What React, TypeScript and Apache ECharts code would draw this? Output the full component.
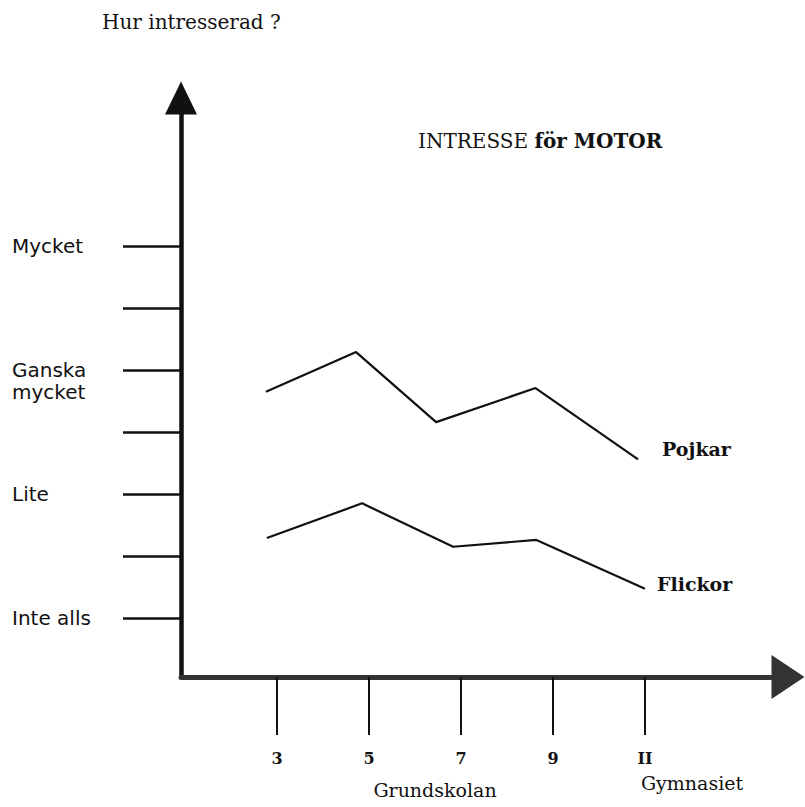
import React, { useEffect, useRef } from "react";
import * as echarts from "echarts";

// ---- data ----
const levelLabels: Record<number, string> = {
  0: "Inte alls",
  2: "Lite",
  4: "\nGanska\nmycket",
  6: "Mycket",
};
const yTickValues = [0, 1, 2, 3, 4, 5, 6];
const yLabelValues = [0, 2, 4, 6];
const xTickValues = [3, 5, 7, 9, 11];
const xTickLabels: Record<number, string> = { 3: "3", 5: "5", 7: "7", 9: "9", 11: "II" };

const pojkarX = [2.76, 4.72, 6.46, 8.62, 10.85];
const pojkarY = [3.65, 4.29, 3.16, 3.71, 2.56];
const flickorX = [2.78, 4.85, 6.83, 8.64, 11.0];
const flickorY = [1.29, 1.85, 1.15, 1.26, 0.47];

const seriesNames = ["Pojkar", "Flickor"];
const titleText = "INTRESSE";
const titleBold = "för MOTOR";
const yAxisTitle = "Hur intresserad ?";
const groupLabels = ["Grundskolan", "Gymnasiet"];

const SERIF = "'DejaVu Serif', serif";
const SANS = "'DejaVu Sans', sans-serif";
const INK = "#111";

export default function App() {
  const ref = useRef<HTMLDivElement>(null);
  useEffect(() => {
    if (!ref.current) return;
    const chart = echarts.init(ref.current, null, { renderer: "svg" });
    const zip = (xs: number[], ys: number[]) => xs.map((x, i) => [x, ys[i]]);
    const endLabel = (offset: number[]) => ({
      show: true,
      formatter: "{a}",
      distance: 0,
      offset,
      color: INK,
      fontFamily: SERIF,
      fontWeight: "bold",
      fontSize: 19,
    });
    chart.setOption({
      animation: false,
      backgroundColor: "#fff",
      grid: { left: 181, right: 17, top: 98, bottom: 130, containLabel: false },
      xAxis: {
        type: "value",
        min: 0.913,
        max: 14.11,
        splitLine: { show: false },
        axisLine: {
          show: true,
          onZero: false,
          symbol: ["none", "triangle"],
          symbolSize: [44, 33],
          lineStyle: { color: "#333", width: 5 },
        },
        axisTick: {
          show: true,
          customValues: xTickValues,
          length: 58,
          lineStyle: { color: INK, width: 2 },
        },
        axisLabel: {
          customValues: xTickValues,
          margin: 73,
          formatter: (v: number) => xTickLabels[v] ?? "",
          color: INK,
          fontFamily: SERIF,
          fontWeight: "bold",
          fontSize: 16,
        },
      },
      yAxis: {
        type: "value",
        min: -0.952,
        max: 8.39,
        splitLine: { show: false },
        axisLine: {
          show: true,
          onZero: false,
          symbol: ["none", "triangle"],
          symbolSize: [32, 33],
          lineStyle: { color: INK, width: 4.5 },
        },
        axisTick: {
          show: true,
          customValues: yTickValues,
          length: 58,
          lineStyle: { color: INK, width: 2.5 },
        },
        axisLabel: {
          customValues: yLabelValues,
          margin: 169,
          align: "left",
          formatter: (v: number) => levelLabels[v] ?? "",
          color: INK,
          fontFamily: SANS,
          fontSize: 20,
          lineHeight: 22,
        },
      },
      series: [
        {
          name: seriesNames[0],
          type: "line",
          data: zip(pojkarX, pojkarY),
          symbol: "none",
          lineStyle: { color: INK, width: 2.2 },
          endLabel: endLabel([24, -10]),
        },
        {
          name: seriesNames[1],
          type: "line",
          data: zip(flickorX, flickorY),
          symbol: "none",
          lineStyle: { color: INK, width: 2.2 },
          endLabel: endLabel([12, -5]),
        },
      ],
      graphic: [
        {
          type: "text",
          left: 102,
          top: 12,
          style: { text: yAxisTitle, fill: INK, font: `20px ${SERIF}` },
        },
        {
          type: "text",
          left: 418,
          top: 131,
          style: {
            text: `{n|${titleText} }{b|${titleBold}}`,
            rich: {
              n: { fill: INK, fontFamily: SERIF, fontSize: 20 },
              b: { fill: INK, fontFamily: SERIF, fontSize: 20, fontWeight: "bold" },
            },
          },
        },
        {
          type: "text",
          x: 435,
          y: 790,
          style: {
            text: groupLabels[0],
            fill: INK,
            font: `19px ${SERIF}`,
            align: "center",
            verticalAlign: "middle",
          },
        },
        {
          type: "text",
          x: 692,
          y: 783,
          style: {
            text: groupLabels[1],
            fill: INK,
            font: `19px ${SERIF}`,
            align: "center",
            verticalAlign: "middle",
          },
        },
      ],
    });
    return () => chart.dispose();
  }, []);
  return (
    <div
      ref={ref}
      style={{ position: "fixed", left: 0, top: 0, width: 805, height: 807 }}
    />
  );
}
